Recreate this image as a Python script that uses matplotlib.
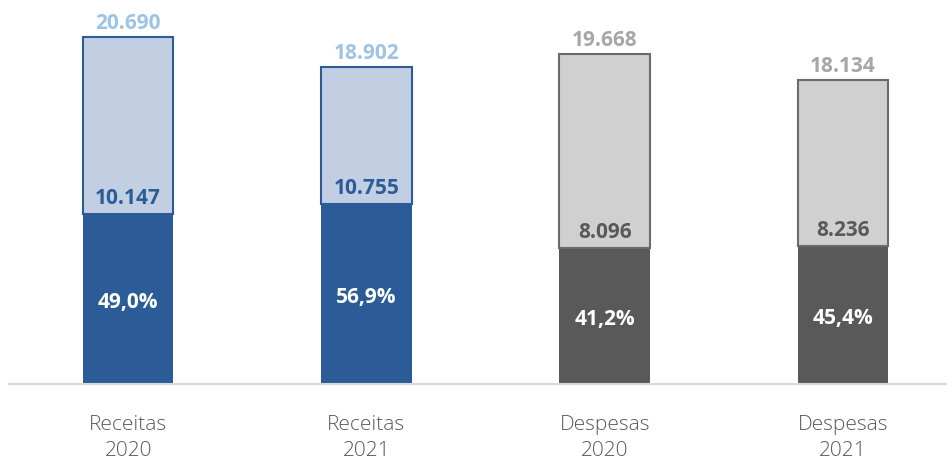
import matplotlib
matplotlib.use("Agg")
import matplotlib.pyplot as plt

categories = ["Receitas\n2020", "Receitas\n2021", "Despesas\n2020", "Despesas\n2021"]
totals = [20690, 18902, 19668, 18134]
parts = [10147, 10755, 8096, 8236]
total_labels = ["20.690", "18.902", "19.668", "18.134"]
part_labels = ["10.147", "10.755", "8.096", "8.236"]
pct_labels = ["49,0%", "56,9%", "41,2%", "45,4%"]

dark = ["#2C5C97", "#2C5C97", "#595959", "#595959"]
light = ["#C2CFE2", "#C2CFE2", "#D0D0D0", "#D0D0D0"]
edge = ["#2C5C97", "#2C5C97", "#6A6A6A", "#6A6A6A"]
top_col = ["#9DC3E6", "#9DC3E6", "#A6A6A6", "#A6A6A6"]

plt.rcParams['font.family'] = ['Open Sans', 'DejaVu Sans']

W, H = 947, 462
fig = plt.figure(figsize=(W / 100, H / 100), dpi=100)
ax = fig.add_axes([9 / W, 78 / H, 953 / W, 384 / H])
ax.set_xlim(-0.5, 3.5)
ax.set_ylim(0, 22900)

x = list(range(len(categories)))
width = 0.38
rest = [t - p for t, p in zip(totals, parts)]

ax.bar(x, parts, width=width, color=dark, edgecolor=dark, linewidth=0)
ax.bar(x, rest, bottom=parts, width=width, color=light, edgecolor=edge, linewidth=1.5)

for i in x:
    ax.text(i, totals[i] + 180, total_labels[i], ha="center", va="bottom",
            fontsize=15, fontweight="bold", color=top_col[i])
    ax.text(i, parts[i] + 300, part_labels[i], ha="center", va="bottom",
            fontsize=15, fontweight="bold", color=dark[i])
    ax.text(i, parts[i] / 2 - 200, pct_labels[i], ha="center", va="center",
            fontsize=15, fontweight="bold", color="white")

for s in ["top", "right", "left"]:
    ax.spines[s].set_visible(False)
ax.spines["bottom"].set_color("#D9D9D9")
ax.spines["bottom"].set_linewidth(1.5)
ax.set_yticks([])
ax.set_xticks(x)
ax.set_xticklabels(categories, fontsize=15, color="#595959", linespacing=1.4,
                   fontweight="light")
ax.tick_params(axis="x", length=0, pad=22)

fig.savefig("out.png", dpi=100)
